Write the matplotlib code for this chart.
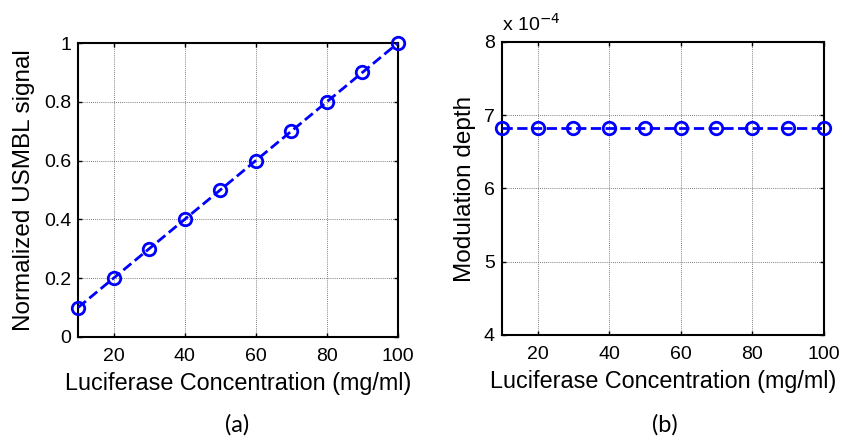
import matplotlib
matplotlib.use("Agg")
import matplotlib.pyplot as plt
from matplotlib.ticker import FuncFormatter

plt.rcParams["font.family"] = ["Liberation Sans", "DejaVu Sans"]

# ------------------------------------------------------------------ data
concentration = [10, 20, 30, 40, 50, 60, 70, 80, 90, 100]
usmbl_signal = [0.1, 0.2, 0.3, 0.4, 0.5, 0.6, 0.7, 0.8, 0.9, 1.0]
modulation_depth = [6.82e-4] * 10

x_ticks = [20, 40, 60, 80, 100]
y_ticks_a = [0, 0.2, 0.4, 0.6, 0.8, 1]
y_ticks_b = [4e-4, 5e-4, 6e-4, 7e-4, 8e-4]

xlabel = "Luciferase Concentration (mg/ml)"


def style_axes(ax):
    ax.grid(True, color="#555555", linestyle=(0, (1, 1.5)), linewidth=0.6)
    ax.tick_params(direction="in", top=True, right=True, length=3, width=1,
                   labelsize=14)
    ax.tick_params(axis="x", pad=8)
    ax.tick_params(axis="y", pad=5)
    for spine in ax.spines.values():
        spine.set_linewidth(1.5)
    ax.set_xlim(10, 100)
    ax.set_xticks(x_ticks)
    ax.set_xticklabels([str(t) for t in x_ticks])
    ax.set_xlabel(xlabel, fontsize=16.8, labelpad=5)


fig = plt.figure(figsize=(8.42, 4.44), dpi=100)

# (a) normalized signal
ax1 = fig.add_axes([0.0926, 0.241, 0.380, 0.662])
ax1.plot(concentration, usmbl_signal, color="#0000ff", linestyle="--",
         linewidth=2, marker="o", markersize=9, markerfacecolor="none",
         markeredgewidth=2, clip_on=False, zorder=5)
style_axes(ax1)
ax1.set_ylim(0, 1)
ax1.set_yticks(y_ticks_a)
ax1.yaxis.set_major_formatter(FuncFormatter(lambda v, p: f"{v:g}"))
ax1.set_ylabel("Normalized USMBL signal", fontsize=17.5, labelpad=6)

# (b) modulation depth
ax2 = fig.add_axes([0.596, 0.2455, 0.3824, 0.660])
ax2.plot(concentration, modulation_depth, color="#0000ff", linestyle="--",
         linewidth=2, marker="o", markersize=9, markerfacecolor="none",
         markeredgewidth=2, clip_on=False, zorder=5)
style_axes(ax2)
ax2.set_ylim(4e-4, 8e-4)
ax2.set_yticks(y_ticks_b)
ax2.yaxis.set_major_formatter(FuncFormatter(lambda v, p: f"{v * 1e4:g}"))
ax2.set_ylabel("Modulation depth", fontsize=17.5, labelpad=6)
ax2.text(0.0, 1.025, r"x 10$^{-4}$", transform=ax2.transAxes,
         fontsize=14, ha="left", va="bottom")

# panel letters
fig.text(0.282, 0.043, "(a)", fontsize=17, family=["Lato", "DejaVu Sans"],
         ha="center", va="center")
fig.text(0.790, 0.043, "(b)", fontsize=17, family=["Lato", "DejaVu Sans"],
         ha="center", va="center")

fig.savefig("out.png", dpi=100)
